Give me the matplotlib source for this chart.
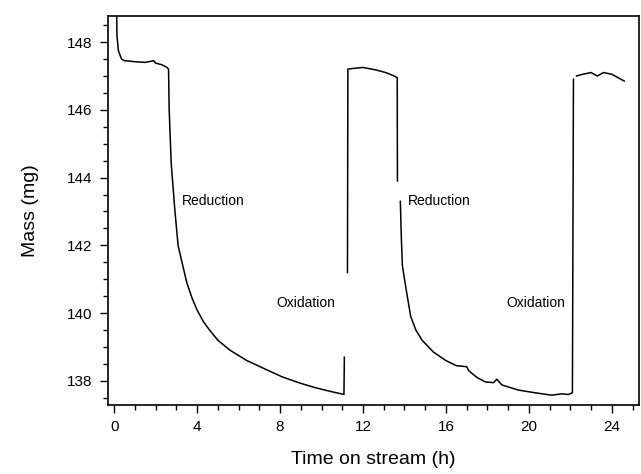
import numpy as np
import matplotlib.pyplot as plt
from matplotlib.ticker import MultipleLocator

plt.rcParams['font.family'] = ['Liberation Sans', 'DejaVu Sans']

nan = np.nan
time_h = [0.12, 0.13, 0.2, 0.35, 0.5, 1.0, 1.5, 1.9, 2.0, 2.3, 2.55,
          2.62, 2.65, 2.75, 2.93, 3.08, 3.27, 3.5, 3.75, 3.99, 4.3, 4.6, 5.0, 5.6, 6.4,
          7.35, 8.1, 8.94, 9.7, 10.5, 10.95, 11.08, 11.1, nan,
          11.25, 11.27, 11.5, 12.0, 12.6, 13.1, 13.5, 13.65, 13.66, nan,
          13.8, 13.85, 13.9, 14.08, 14.3, 14.55, 14.85, 15.4, 16.0, 16.5, 17.0, 17.1, 17.5,
          17.9, 18.3, 18.45, 18.7, 19.5, 20.3, 21.1, 21.6, 21.9, 22.1, 22.15,
          nan, 22.3, 22.6, 23.0, 23.3, 23.6, 24.0, 24.3, 24.6]
mass_mg = [148.75, 148.2, 147.75, 147.5, 147.45, 147.42, 147.4, 147.45, 147.38, 147.33, 147.25,
           147.2, 146.0, 144.4, 143.0, 142.0, 141.5, 140.9, 140.45, 140.1, 139.75, 139.5, 139.2, 138.9, 138.6,
           138.33, 138.12, 137.94, 137.8, 137.68, 137.62, 137.6, 138.7, nan,
           141.2, 147.2, 147.22, 147.25, 147.18, 147.1, 147.0, 146.95, 143.9, nan,
           143.3, 142.2, 141.4, 140.7, 139.9, 139.5, 139.2, 138.85, 138.6, 138.45, 138.42, 138.3, 138.1,
           137.97, 137.95, 138.05, 137.88, 137.73, 137.65, 137.58, 137.62, 137.6, 137.65, 146.9,
           nan, 147.0, 147.05, 147.1, 147.0, 147.1, 147.05, 146.95, 146.85]

labels = ["Reduction", "Oxidation", "Reduction", "Oxidation"]
label_pos = [(3.25, 143.3), (7.8, 140.3), (14.15, 143.3), (18.9, 140.3)]

fig = plt.figure(figsize=(6.41, 4.74), dpi=100)
ax = fig.add_axes([0.1685, 0.1456, 0.828, 0.8207])
ax.plot(time_h, mass_mg, color='black', lw=1.1)

for txt, (x, y) in zip(labels, label_pos):
    ax.text(x, y, txt, fontsize=10, va='center', ha='left')

ax.set_xlim(-0.3, 25.3)
ax.set_ylim(137.29, 148.77)
ax.xaxis.set_major_locator(MultipleLocator(4))
ax.xaxis.set_minor_locator(MultipleLocator(1))
ax.yaxis.set_major_locator(MultipleLocator(2))
ax.yaxis.set_minor_locator(MultipleLocator(0.5))
ax.tick_params(which='major', length=6, width=1, labelsize=11, pad=5)
ax.tick_params(which='minor', length=3.5, width=1)
for s in ax.spines.values():
    s.set_linewidth(1.2)

ax.set_xlabel("Time on stream (h)", fontsize=14, labelpad=12)
ax.set_ylabel("Mass (mg)", fontsize=14, labelpad=20)

plt.savefig('out.png', dpi=100)
